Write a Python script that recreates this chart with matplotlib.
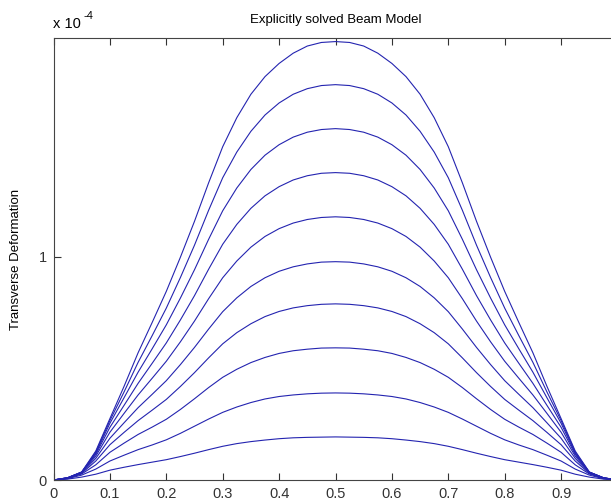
import matplotlib
matplotlib.use("Agg")
import matplotlib.pyplot as plt

# positions along the beam
x_pos = [0.0, 0.025, 0.05, 0.075, 0.1, 0.125, 0.15, 0.175, 0.2, 0.225, 0.25,
         0.275, 0.3, 0.325, 0.35, 0.375, 0.4, 0.425, 0.45, 0.475, 0.5,
         0.525, 0.55, 0.575, 0.6, 0.625, 0.65, 0.675, 0.7, 0.725, 0.75,
         0.775, 0.8, 0.825, 0.85, 0.875, 0.9, 0.925, 0.95, 0.975, 1.0]

# transverse deformation (units of 1e-4), one list per time step
w1 = [0, 0.004, 0.013, 0.026, 0.044, 0.057, 0.069, 0.080, 0.091, 0.105, 0.120,
      0.136, 0.151, 0.163, 0.172, 0.179, 0.185, 0.189, 0.191, 0.192, 0.193,
      0.192, 0.191, 0.189, 0.185, 0.179, 0.172, 0.163, 0.151, 0.136, 0.120,
      0.105, 0.091, 0.080, 0.069, 0.057, 0.044, 0.026, 0.013, 0.004, 0]
w2 = [0, 0.006, 0.022, 0.049, 0.085, 0.111, 0.136, 0.157, 0.180, 0.209, 0.241,
      0.273, 0.303, 0.327, 0.347, 0.363, 0.374, 0.381, 0.386, 0.389, 0.390,
      0.389, 0.386, 0.381, 0.374, 0.363, 0.347, 0.327, 0.303, 0.273, 0.241,
      0.209, 0.180, 0.157, 0.136, 0.111, 0.085, 0.049, 0.022, 0.006, 0]
w3 = [0, 0.007, 0.027, 0.068, 0.124, 0.165, 0.204, 0.237, 0.272, 0.316, 0.364,
      0.414, 0.460, 0.496, 0.526, 0.549, 0.567, 0.579, 0.586, 0.591, 0.592,
      0.591, 0.586, 0.579, 0.567, 0.549, 0.526, 0.496, 0.460, 0.414, 0.364,
      0.316, 0.272, 0.237, 0.204, 0.165, 0.124, 0.068, 0.027, 0.007, 0]
w4 = [0, 0.008, 0.030, 0.085, 0.158, 0.213, 0.266, 0.313, 0.361, 0.419, 0.481,
      0.547, 0.610, 0.660, 0.700, 0.732, 0.755, 0.771, 0.781, 0.787, 0.789,
      0.787, 0.781, 0.771, 0.755, 0.732, 0.700, 0.660, 0.610, 0.547, 0.481,
      0.419, 0.361, 0.313, 0.266, 0.213, 0.158, 0.085, 0.030, 0.008, 0]
w5 = [0, 0.009, 0.032, 0.097, 0.187, 0.256, 0.324, 0.384, 0.445, 0.517, 0.594,
      0.676, 0.754, 0.816, 0.867, 0.906, 0.935, 0.955, 0.968, 0.976, 0.978,
      0.976, 0.968, 0.955, 0.935, 0.906, 0.867, 0.816, 0.754, 0.676, 0.594,
      0.517, 0.445, 0.384, 0.324, 0.256, 0.187, 0.097, 0.032, 0.009, 0]
w6 = [0, 0.009, 0.034, 0.107, 0.214, 0.298, 0.381, 0.456, 0.532, 0.619, 0.712,
      0.812, 0.906, 0.981, 1.043, 1.091, 1.126, 1.151, 1.167, 1.176, 1.179,
      1.176, 1.167, 1.151, 1.126, 1.091, 1.043, 0.981, 0.906, 0.812, 0.712,
      0.619, 0.532, 0.456, 0.381, 0.298, 0.214, 0.107, 0.034, 0.009, 0]
w7 = [0, 0.010, 0.035, 0.115, 0.236, 0.334, 0.433, 0.523, 0.614, 0.717, 0.826,
      0.944, 1.056, 1.145, 1.217, 1.273, 1.314, 1.344, 1.363, 1.374, 1.377,
      1.374, 1.363, 1.344, 1.314, 1.273, 1.217, 1.145, 1.056, 0.944, 0.826,
      0.717, 0.614, 0.523, 0.433, 0.334, 0.236, 0.115, 0.035, 0.010, 0]
w8 = [0, 0.010, 0.035, 0.120, 0.254, 0.368, 0.483, 0.588, 0.695, 0.815, 0.942,
      1.078, 1.206, 1.308, 1.391, 1.455, 1.502, 1.536, 1.558, 1.570, 1.574,
      1.570, 1.558, 1.536, 1.502, 1.455, 1.391, 1.308, 1.206, 1.078, 0.942,
      0.815, 0.695, 0.588, 0.483, 0.368, 0.254, 0.120, 0.035, 0.010, 0]
w9 = [0, 0.010, 0.035, 0.125, 0.266, 0.394, 0.527, 0.647, 0.770, 0.907, 1.052,
      1.208, 1.354, 1.469, 1.562, 1.635, 1.689, 1.728, 1.753, 1.767, 1.771,
      1.767, 1.753, 1.728, 1.689, 1.635, 1.562, 1.469, 1.354, 1.208, 1.052,
      0.907, 0.770, 0.647, 0.527, 0.394, 0.266, 0.125, 0.035, 0.010, 0]
w10 = [0, 0.010, 0.036, 0.130, 0.275, 0.419, 0.570, 0.706, 0.845, 0.998, 1.159,
       1.331, 1.493, 1.623, 1.728, 1.807, 1.866, 1.912, 1.944, 1.960, 1.964,
       1.960, 1.944, 1.912, 1.866, 1.807, 1.728, 1.623, 1.493, 1.331, 1.159,
       0.998, 0.845, 0.706, 0.570, 0.419, 0.275, 0.130, 0.036, 0.010, 0]
curves = [w1, w2, w3, w4, w5, w6, w7, w8, w9, w10]

x_ticks = [0, 0.1, 0.2, 0.3, 0.4, 0.5, 0.6, 0.7, 0.8, 0.9, 1.0]
# the label at 1 falls outside the cropped picture
x_ticklabels = ["0", "0.1", "0.2", "0.3", "0.4", "0.5", "0.6", "0.7", "0.8", "0.9", ""]
y_ticks = [0, 1]
y_ticklabels = ["0", "1"]

plt.rcParams['font.family'] = ['Liberation Sans', 'DejaVu Sans']

fig = plt.figure(figsize=(6.11, 5.03), dpi=100)
ax = fig.add_axes([53.5 / 611, 23 / 503, 564 / 611, 442 / 503])

for w in curves:
    ax.plot(x_pos, w, color='#2424b0', linewidth=0.8)

ax.set_xlim(0, 1)
ax.set_ylim(0, 1.98)
ax.set_xticks(x_ticks)
ax.set_xticklabels(x_ticklabels)
ax.set_yticks(y_ticks)
ax.set_yticklabels(y_ticklabels)
ax.tick_params(direction='in', length=5, width=0.8, top=True, right=True,
               labelsize=10.5, colors='#333333', pad=5)
for s in ax.spines.values():
    s.set_color('#444444')
    s.set_linewidth(0.8)

ax.set_title("Explicitly solved Beam Model", fontsize=9.5, pad=11)
ax.set_ylabel("Transverse Deformation", fontsize=9.5, labelpad=12)
fig.text(53 / 611, 1 - 28 / 503, "x 10", fontsize=10.5, va='baseline', ha='left')
fig.text(84 / 611, 1 - 19 / 503, "-4", fontsize=8, va='baseline', ha='left')

fig.savefig("out.png", dpi=100)
